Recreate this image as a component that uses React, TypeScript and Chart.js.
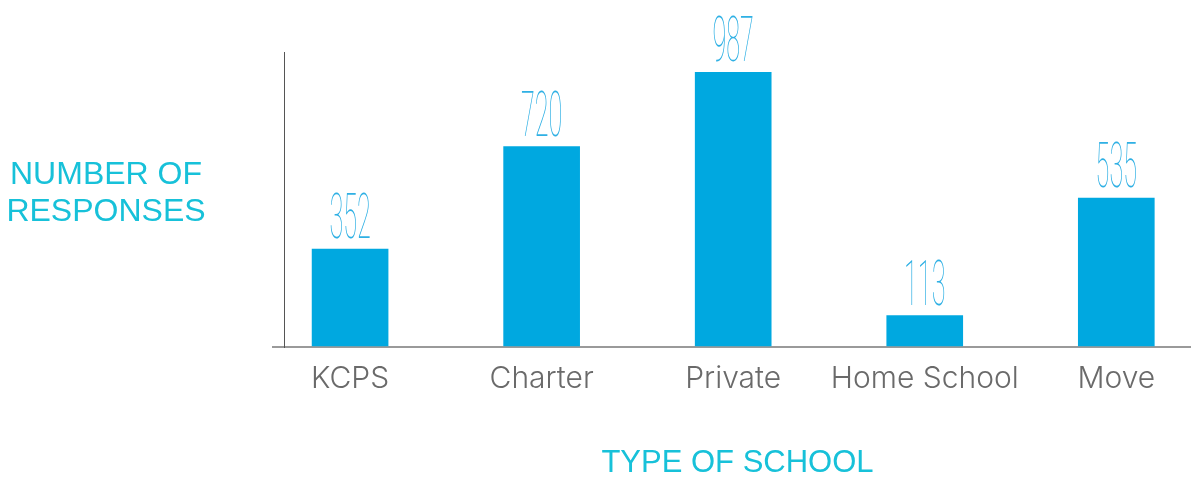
import React, { useEffect, useRef } from "react";
import { Chart, registerables } from "chart.js";

Chart.register(...registerables);

const categories = ["KCPS", "Charter", "Private", "Home School", "Move"];
const responses = [352, 720, 987, 113, 535];
const yTitleLines = ["NUMBER OF", "RESPONSES"];
const xTitle = "TYPE OF SCHOOL";

const BAR = "#00a8e0";
const LABEL = "#2fb0e4";
const TITLE = "#17c1d9";
const TICK = "#6a6a6a";

const valueLabels = {
  id: "valueLabels",
  afterDatasetsDraw(chart: any) {
    const ctx = chart.ctx;
    const meta = chart.getDatasetMeta(0);
    meta.data.forEach((el: any, i: number) => {
      ctx.save();
      ctx.translate(el.x, el.y - 11);
      ctx.scale(0.4, 1);
      ctx.font = "100 63px Roboto";
      ctx.fillStyle = LABEL;
      ctx.textAlign = "center";
      ctx.textBaseline = "alphabetic";
      ctx.fillText(String(responses[i]), 0, 0);
      ctx.restore();
    });
  },
};

const yTitlePlugin = {
  id: "yTitlePlugin",
  afterDraw(chart: any) {
    const ctx = chart.ctx;
    ctx.save();
    ctx.font = "32px 'Liberation Sans'";
    ctx.fillStyle = TITLE;
    ctx.textAlign = "center";
    ctx.textBaseline = "alphabetic";
    yTitleLines.forEach((line, i) => {
      ctx.fillText(line, 106, 184 + i * 37);
    });
    ctx.restore();
  },
};

export default function App() {
  const ref = useRef<HTMLCanvasElement | null>(null);
  useEffect(() => {
    if (!ref.current) return;
    const chart = new Chart(ref.current, {
      type: "bar",
      data: {
        datasets: [
          {
            data: responses.map((v, i) => ({ x: i, y: v })),
            backgroundColor: BAR,
            barThickness: 76,
            borderWidth: 0,
          },
        ],
      },
      options: {
        animation: false,
        responsive: false,
        maintainAspectRatio: false,
        layout: { padding: { top: 52, right: 0, left: 0, bottom: 0 } },
        plugins: { legend: { display: false }, tooltip: { enabled: false } },
        scales: {
          x: {
            type: "linear",
            offset: false,
            bounds: "ticks",
            min: -0.345,
            max: 4.39,
            afterBuildTicks: (s: any) => {
              s.ticks = categories.map((_, i) => ({ value: i }));
            },
            afterFit: (s: any) => {
              s.height = 131;
            },
            grid: { display: false, offset: false },
            border: { display: true, color: "#9a9a9a", width: 2 },
            ticks: {
              autoSkip: false,
              maxRotation: 0,
              padding: 6,
              color: TICK,
              font: { family: "Inter", size: 30, weight: "300" },
              callback: (v: any) => categories[v] ?? "",
            },
            title: {
              display: true,
              text: xTitle,
              color: TITLE,
              font: { family: "'Liberation Sans'", size: 31 },
              padding: { top: 4, bottom: -4 },
            },
          },
          y: {
            min: 0,
            max: 1060,
            afterBuildTicks: (s: any) => {
              s.ticks = [{ value: 0 }];
            },
            afterFit: (s: any) => {
              s.width = 284;
            },
            grid: {
              display: true,
              drawOnChartArea: false,
              drawTicks: true,
              tickLength: 12,
              color: "#9a9a9a",
              lineWidth: 2,
            },
            border: { display: true, color: "#555555", width: 1 },
            ticks: { display: false },
          },
        },
      },
      plugins: [valueLabels, yTitlePlugin],
    });
    return () => chart.destroy();
  }, []);
  return (
    <div style={{ position: "fixed", left: 0, top: 0, width: 1191, height: 478, background: "#fff" }}>
      <canvas ref={ref} width={1191} height={478} style={{ width: 1191, height: 478 }} />
    </div>
  );
}
